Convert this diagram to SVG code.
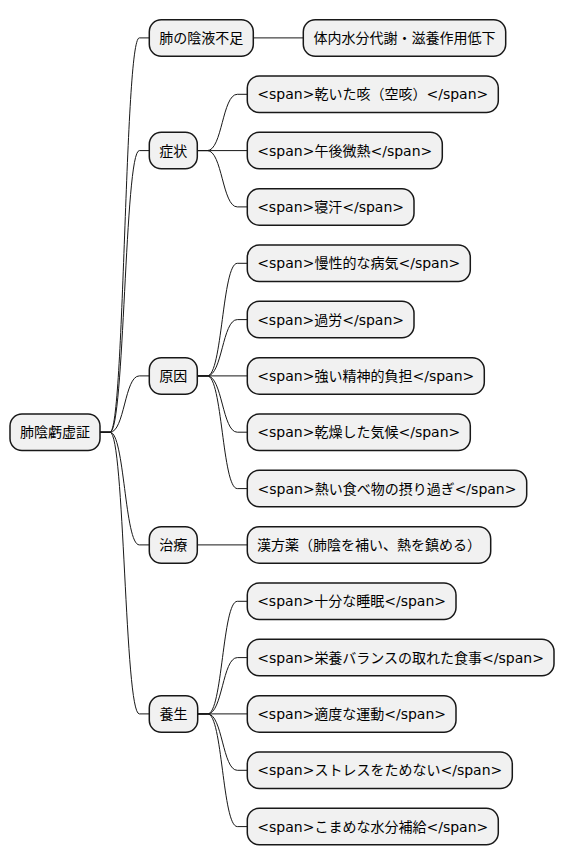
<svg xmlns="http://www.w3.org/2000/svg" width="565" height="865" viewBox="0 0 565 865">
<style>
.n rect{fill:#F1F1F1;stroke:#181818;stroke-width:1.5}
.n text{font-family:"DejaVu Sans","Noto Sans CJK JP",sans-serif;font-size:14px;fill:#000;text-anchor:middle}
#edges path{fill:none;stroke:#181818;stroke-width:1}
</style>
<rect width="565" height="865" fill="#FFFFFF"/>
<g id="edges">
<path d="M100,432.2 L110,432.2 C124.6,432.2 124.6,37.9 139.3,37.9 L149.3,37.9"/>
<path d="M100,432.2 L110,432.2 C124.6,432.2 124.6,150.6 139.3,150.6 L149.3,150.6"/>
<path d="M100,432.2 L110,432.2 C124.6,432.2 124.6,375.9 139.3,375.9 L149.3,375.9"/>
<path d="M100,432.2 L110,432.2 C124.6,432.2 124.6,544.9 139.3,544.9 L149.3,544.9"/>
<path d="M100,432.2 L110,432.2 C124.6,432.2 124.6,713.9 139.3,713.9 L149.3,713.9"/>
<path d="M253.3,37.9 L303.3,37.9"/>
<path d="M197.3,150.6 L207.3,150.6 C222.3,150.6 222.3,94.3 237.3,94.3 L247.3,94.3"/>
<path d="M197.3,150.6 L247.3,150.6"/>
<path d="M197.3,150.6 L207.3,150.6 C222.3,150.6 222.3,206.9 237.3,206.9 L247.3,206.9"/>
<path d="M197.3,375.9 L207.3,375.9 C222.3,375.9 222.3,263.3 237.3,263.3 L247.3,263.3"/>
<path d="M197.3,375.9 L207.3,375.9 C222.3,375.9 222.3,319.6 237.3,319.6 L247.3,319.6"/>
<path d="M197.3,375.9 L247.3,375.9"/>
<path d="M197.3,375.9 L207.3,375.9 C222.3,375.9 222.3,432.2 237.3,432.2 L247.3,432.2"/>
<path d="M197.3,375.9 L207.3,375.9 C222.3,375.9 222.3,488.6 237.3,488.6 L247.3,488.6"/>
<path d="M197.3,544.9 L247.3,544.9"/>
<path d="M197.7,713.9 L207.7,713.9 C222.5,713.9 222.5,601.3 237.3,601.3 L247.3,601.3"/>
<path d="M197.7,713.9 L207.7,713.9 C222.5,713.9 222.5,657.6 237.3,657.6 L247.3,657.6"/>
<path d="M197.7,713.9 L247.3,713.9"/>
<path d="M197.7,713.9 L207.7,713.9 C222.5,713.9 222.5,770.3 237.3,770.3 L247.3,770.3"/>
<path d="M197.7,713.9 L207.7,713.9 C222.5,713.9 222.5,826.6 237.3,826.6 L247.3,826.6"/>
</g>
<g id="root" class="n"><rect x="10" y="414" width="90" height="36.5" rx="12"/><text x="55" y="437.2">肺陰虧虚証</text></g>
<g id="n1" class="n"><rect x="149.3" y="19.7" width="104" height="36.5" rx="12"/><text x="201.3" y="42.9">肺の陰液不足</text></g>
<g id="n1a" class="n"><rect x="303.3" y="19.7" width="202.4" height="36.5" rx="12"/><text x="404.5" y="42.9">体内水分代謝・滋養作用低下</text></g>
<g id="n2" class="n"><rect x="149.3" y="132.3" width="48" height="36.5" rx="12"/><text x="173.3" y="155.6">症状</text></g>
<g id="n2a" class="n"><rect x="247.3" y="76" width="251" height="36.5" rx="12"/><text x="372.8" y="99.3">&lt;span&gt;乾いた咳（空咳）&lt;/span&gt;</text></g>
<g id="n2b" class="n"><rect x="247.3" y="132.3" width="195" height="36.5" rx="12"/><text x="344.8" y="155.6">&lt;span&gt;午後微熱&lt;/span&gt;</text></g>
<g id="n2c" class="n"><rect x="247.3" y="188.7" width="166.7" height="36.5" rx="12"/><text x="330.6" y="211.9">&lt;span&gt;寝汗&lt;/span&gt;</text></g>
<g id="n3" class="n"><rect x="149.3" y="357.7" width="48" height="36.5" rx="12"/><text x="173.3" y="380.9">原因</text></g>
<g id="n3a" class="n"><rect x="247.3" y="245" width="223" height="36.5" rx="12"/><text x="358.8" y="268.3">&lt;span&gt;慢性的な病気&lt;/span&gt;</text></g>
<g id="n3b" class="n"><rect x="247.3" y="301.3" width="166.7" height="36.5" rx="12"/><text x="330.6" y="324.6">&lt;span&gt;過労&lt;/span&gt;</text></g>
<g id="n3c" class="n"><rect x="247.3" y="357.7" width="237" height="36.5" rx="12"/><text x="365.8" y="380.9">&lt;span&gt;強い精神的負担&lt;/span&gt;</text></g>
<g id="n3d" class="n"><rect x="247.3" y="414" width="223" height="36.5" rx="12"/><text x="358.8" y="437.2">&lt;span&gt;乾燥した気候&lt;/span&gt;</text></g>
<g id="n3e" class="n"><rect x="247.3" y="470.3" width="279.4" height="36.5" rx="12"/><text x="387" y="493.6">&lt;span&gt;熱い食べ物の摂り過ぎ&lt;/span&gt;</text></g>
<g id="n4" class="n"><rect x="149.3" y="526.7" width="48" height="36.5" rx="12"/><text x="173.3" y="549.9">治療</text></g>
<g id="n4a" class="n"><rect x="247.3" y="526.7" width="243.4" height="36.5" rx="12"/><text x="369" y="549.9">漢方薬（肺陰を補い、熱を鎮める）</text></g>
<g id="n5" class="n"><rect x="149.3" y="695.7" width="48.4" height="36.5" rx="12"/><text x="173.5" y="718.9">養生</text></g>
<g id="n5a" class="n"><rect x="247.3" y="583" width="208.7" height="36.5" rx="12"/><text x="351.6" y="606.3">&lt;span&gt;十分な睡眠&lt;/span&gt;</text></g>
<g id="n5b" class="n"><rect x="247.3" y="639.3" width="306.7" height="36.5" rx="12"/><text x="400.6" y="662.6">&lt;span&gt;栄養バランスの取れた食事&lt;/span&gt;</text></g>
<g id="n5c" class="n"><rect x="247.3" y="695.7" width="208.7" height="36.5" rx="12"/><text x="351.6" y="718.9">&lt;span&gt;適度な運動&lt;/span&gt;</text></g>
<g id="n5d" class="n"><rect x="247.3" y="752" width="265" height="36.5" rx="12"/><text x="379.8" y="775.3">&lt;span&gt;ストレスをためない&lt;/span&gt;</text></g>
<g id="n5e" class="n"><rect x="247.3" y="808.3" width="251" height="36.5" rx="12"/><text x="372.8" y="831.6">&lt;span&gt;こまめな水分補給&lt;/span&gt;</text></g>
</svg>
